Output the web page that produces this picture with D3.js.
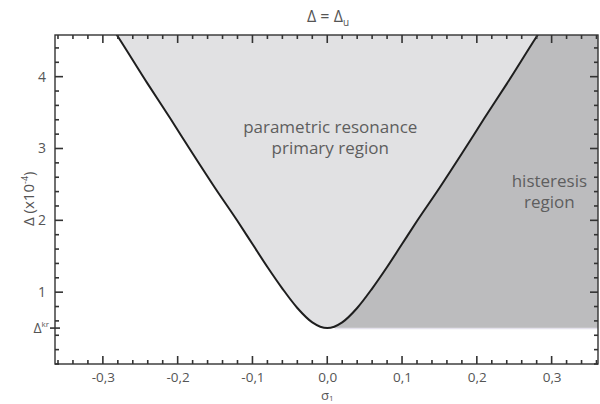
<!DOCTYPE html>
<html>
<head>
<meta charset="utf-8">
<script src="https://cdn.jsdelivr.net/npm/d3@7"></script>
<style>
  body { margin: 0; background: #fff; }
  svg text, svg tspan { font-family: 'Open Sans', 'Noto Sans', sans-serif; fill: #555; }
</style>
</head>
<body>
<svg id="chart" width="600" height="404"></svg>
<script>
// boundary curve of the primary resonance region (sigma, delta x1e-4)
const curveSigma = [-0.29, -0.28, -0.24, -0.21, -0.18, -0.15, -0.12, -0.10, -0.08, -0.06, -0.04, -0.02, 0.00,
  0.02, 0.04, 0.06, 0.08, 0.10, 0.12, 0.15, 0.18, 0.21, 0.24, 0.28, 0.29]
const curveDelta = [4.72, 4.56, 3.90, 3.42, 2.93, 2.45, 1.99, 1.67, 1.35, 1.05, 0.78, 0.58, 0.50,
  0.58, 0.78, 1.05, 1.35, 1.67, 1.99, 2.45, 2.93, 3.42, 3.90, 4.56, 4.72]
const deltaKr = 0.5
const xTickValues = [-0.3, -0.2, -0.1, 0.0, 0.1, 0.2, 0.3]
const xTickLabels = ['-0,3', '-0,2', '-0,1', '0,0', '0,1', '0,2', '0,3']
const yTickValues = [1, 2, 3, 4]
const yTickLabels = ['1', '2', '3', '4']

const width = 600
const height = 404
const margin = { top: 35, right: 2, bottom: 40, left: 55 }

const x = d3.scaleLinear().domain([-0.364, 0.362]).range([margin.left, width - margin.right])
const y = d3.scaleLinear().domain([0, 4.58]).range([height - margin.bottom, margin.top])

const svg = d3.select('#chart')
const points = curveSigma.map((s, i) => [s, curveDelta[i]])

svg.append('clipPath').attr('id', 'plot')
  .append('rect')
  .attr('x', x.range()[0]).attr('y', y.range()[1])
  .attr('width', x.range()[1] - x.range()[0])
  .attr('height', y.range()[0] - y.range()[1])

const plot = svg.append('g').attr('clip-path', 'url(#plot)')
const line = d3.line().x((d) => x(d[0])).y((d) => y(d[1])).curve(d3.curveMonotoneX)

// hysteresis region: right of the right branch, above delta_kr
const rightBranch = points.filter((d) => d[0] >= 0)
const xMax = x.domain()[1]
plot.append('path')
  .attr('d', line(rightBranch) + 'L' + x(xMax + 0.01) + ',' + y(4.72) + 'L' + x(xMax + 0.01) + ',' + y(deltaKr) + 'Z')
  .attr('fill', '#bcbcbe')

plot.append('line')
  .attr('x1', x(0.01)).attr('x2', x(xMax))
  .attr('y1', y(deltaKr) + 0.5).attr('y2', y(deltaKr) + 0.5)
  .attr('stroke', '#e4e1ec').attr('stroke-width', 1.5)

// primary region inside the V
plot.append('path')
  .attr('d', line(points) + 'Z')
  .attr('fill', '#e1e1e3')

plot.append('path')
  .attr('d', line(points))
  .attr('fill', 'none')
  .attr('stroke', '#1e1e1e')
  .attr('stroke-width', 2)

// frame and ticks
const minorX = x.ticks(36)
const minorY = d3.range(0, 4.5, 0.2)
const axisColor = '#333'
const bottomY = y.range()[0]
const topY = y.range()[1]
const leftX = x.range()[0]
const rightX = x.range()[1]

svg.append('rect')
  .attr('x', leftX).attr('y', topY)
  .attr('width', rightX - leftX).attr('height', bottomY - topY)
  .attr('fill', 'none').attr('stroke', axisColor).attr('stroke-width', 1.4)

const ticks = svg.append('g').attr('stroke', axisColor).attr('stroke-width', 1.6)
const isMajorX = (d) => xTickValues.some((v) => Math.abs(v - d) < 1e-6)
const isMajorY = (d) => yTickValues.some((v) => Math.abs(v - d) < 1e-6)

for (const yy of [bottomY, topY]) {
  const dir = yy === bottomY ? -1 : 1
  ticks.selectAll(null).data(minorX).join('line')
    .attr('x1', (d) => x(d)).attr('x2', (d) => x(d))
    .attr('y1', yy).attr('y2', (d) => yy + dir * (isMajorX(d) ? 8 : 4))
}
for (const xx of [leftX, rightX]) {
  const dir = xx === leftX ? 1 : -1
  ticks.selectAll(null).data(minorY).join('line')
    .attr('y1', (d) => y(d)).attr('y2', (d) => y(d))
    .attr('x1', xx).attr('x2', (d) => xx + dir * (isMajorY(d) ? 8 : 4))
}

// tick labels from the axis generators
svg.append('g').attr('transform', `translate(0,${bottomY})`)
  .call(d3.axisBottom(x).tickValues(xTickValues).tickSize(0).tickPadding(0)
    .tickFormat((d, i) => xTickLabels[i]))
  .call((g) => {
    g.select('.domain').remove()
    g.selectAll('text').attr('y', 8).attr('font-size', 13.5).style('fill', '#555')
  })
svg.append('g').attr('transform', `translate(${leftX},0)`)
  .call(d3.axisLeft(y).tickValues(yTickValues).tickSize(0)
    .tickFormat((d, i) => yTickLabels[i]))
  .call((g) => {
    g.select('.domain').remove()
    g.selectAll('text').attr('x', -9).attr('font-size', 14).style('fill', '#555')
  })

// delta_kr tick across the left axis
svg.append('line')
  .attr('x1', leftX - 5).attr('x2', leftX + 5)
  .attr('y1', y(deltaKr)).attr('y2', y(deltaKr))
  .attr('stroke', axisColor).attr('stroke-width', 1.6)
const kr = svg.append('text')
  .attr('x', leftX - 6).attr('y', y(deltaKr) + 5)
  .attr('text-anchor', 'end').attr('font-size', 14)
kr.append('tspan').text('Δ')
kr.append('tspan').attr('font-size', 8).attr('dy', -6).text('kr')

// title
const title = svg.append('text')
  .attr('x', 328).attr('y', 22)
  .attr('text-anchor', 'middle').attr('font-size', 16)
title.append('tspan').text('Δ = Δ')
title.append('tspan').attr('font-size', 10).attr('dy', 4).attr('fill', '#555').text('u')

// axis labels
const xl = svg.append('text')
  .attr('x', x(0)).attr('y', 400)
  .attr('text-anchor', 'middle').attr('font-size', 13)
xl.append('tspan').text('σ')
xl.append('tspan').attr('font-size', 8).attr('dy', 1).attr('fill', '#555').text('1')

const yl = svg.append('text')
  .attr('transform', `translate(34,${y(2.3)}) rotate(-90)`)
  .attr('text-anchor', 'middle').attr('font-size', 15)
yl.append('tspan').text('Δ (x10')
yl.append('tspan').attr('font-size', 9).attr('dy', -6).text('-4')
yl.append('tspan').attr('dy', 6).text(')')

// region labels
const regionLabel = (lines, cx, cy) => {
  svg.append('text')
    .attr('text-anchor', 'middle').attr('font-size', 17)
    .selectAll('tspan').data(lines).join('tspan')
    .attr('x', cx).attr('y', (d, i) => cy + i * 21)
    .style('fill', '#5e5e5e')
    .text((d) => d)
}
regionLabel(['parametric resonance', 'primary region'], x(0.004), y(3.21))
regionLabel(['histeresis', 'region'], x(0.297), y(2.47))
</script>
</body>
</html>
